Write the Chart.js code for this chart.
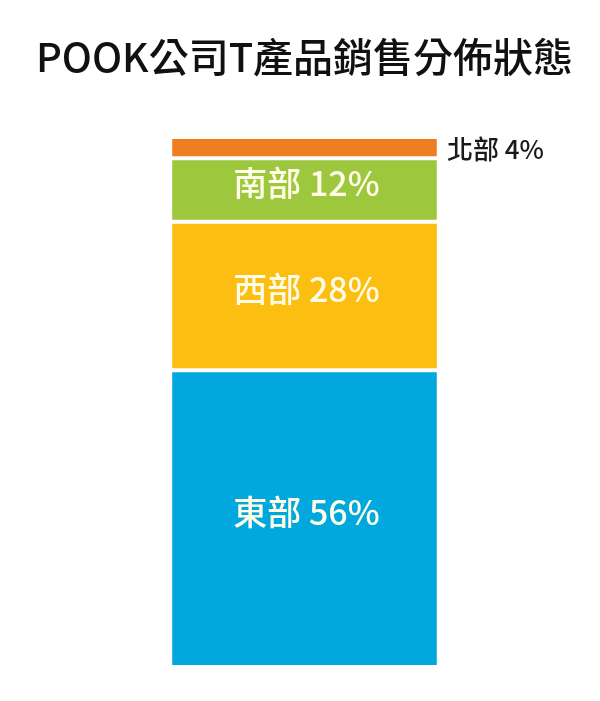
<!DOCTYPE html>
<html>
<head>
<meta charset="utf-8">
<script src="https://cdn.jsdelivr.net/npm/chart.js@4"></script>
<style>
  html, body { margin: 0; padding: 0; background: #fff; }
  #wrap { width: 600px; height: 701px; position: relative; }
</style>
</head>
<body>
<div id="wrap"><canvas id="chart"></canvas></div>
<script>
// data, bottom segment first
const regions = ["東部", "西部", "南部", "北部"];
const shares = [56, 28, 12, 4];
const colors = ["#00a8dd", "#fdbe12", "#9dc73d", "#ef7d22"];
const titleText = "POOK公司T產品銷售分佈狀態";

const CJK = "'Noto Sans CJK TC', 'Noto Sans', sans-serif";

// labels inside each segment; the small top one goes to the right of the bar
const segmentLabels = {
  id: "segmentLabels",
  afterDatasetsDraw(chart) {
    const ctx = chart.ctx;
    ctx.save();
    ctx.textBaseline = "middle";
    chart.data.datasets.forEach((ds, i) => {
      const bar = chart.getDatasetMeta(i).data[0];
      const text = regions[i] + " " + shares[i] + "%";
      const h = Math.abs(bar.base - bar.y);
      const mid = (bar.y + bar.base) / 2;
      if (h > 40) {
        ctx.font = "500 34px " + CJK;
        ctx.fillStyle = "#fffde8";
        ctx.textAlign = "center";
        ctx.fillText(text, bar.x + 2, mid - 7);
      } else {
        ctx.font = "500 26px " + CJK;
        ctx.fillStyle = "#1a1a1a";
        ctx.textAlign = "left";
        ctx.fillText(text, bar.x + bar.width / 2 + 10, mid + 2);
      }
    });
    ctx.restore();
  },
};

new Chart(document.getElementById("chart"), {
  type: "bar",
  data: {
    labels: [""],
    datasets: regions.map((r, i) => ({
      label: r,
      data: [shares[i]],
      backgroundColor: colors[i],
      borderColor: "#ffffff",
      borderWidth: { top: 2, bottom: 2, left: 0, right: 0 },
      borderSkipped: false,
      barPercentage: 0.448,
      categoryPercentage: 1,
    })),
  },
  options: {
    responsive: true,
    maintainAspectRatio: false,
    animation: false,
    layout: { padding: { top: 0, left: 9, right: 0, bottom: 34 } },
    plugins: {
      legend: { display: false },
      tooltip: { enabled: false },
      title: {
        display: true,
        text: titleText,
        color: "#111111",
        font: { family: CJK, size: 40, weight: "500" },
        padding: { top: 33, bottom: 56 },
      },
    },
    scales: {
      x: { stacked: true, display: false },
      y: { stacked: true, display: false, min: 0, max: 100 },
    },
  },
  plugins: [segmentLabels],
});
</script>
</body>
</html>
